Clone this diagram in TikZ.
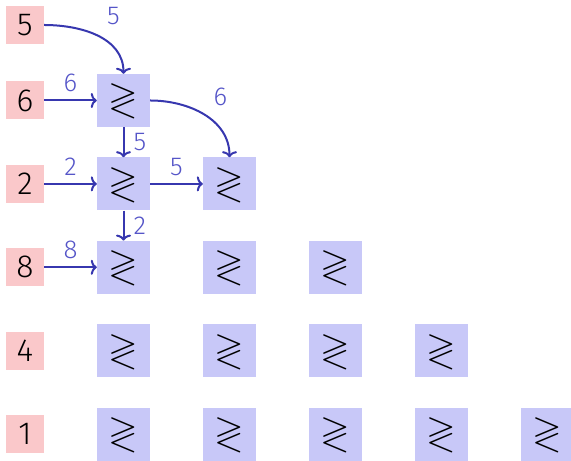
\documentclass[tikz,border=0pt]{standalone}
\usepackage{amssymb}
\usepackage{fontspec}
\setmainfont{Fira Sans Light}
\usetikzlibrary{positioning,arrows.meta}
\definecolor{boxpink}{RGB}{250,200,202}
\definecolor{boxblue}{RGB}{200,200,248}
\definecolor{arrowblue}{RGB}{55,55,175}
\definecolor{labelblue}{RGB}{85,85,200}

\begin{document}
\begin{tikzpicture}[
  x=1bp, y=1bp,
  numbox/.style={fill=boxpink, minimum size=38bp, inner sep=0pt,
    font=\fontsize{32}{32}\selectfont},
  cmpbox/.style={fill=boxblue, minimum size=53bp, inner sep=0pt,
    font=\fontsize{38}{38}\selectfont},
  flow/.style={draw=arrowblue, line width=2bp, -{To[length=6bp,width=15bp]}},
  lbl/.style={text=labelblue, font=\fontsize{26}{26}\selectfont, inner sep=2bp},
]
\useasboundingbox (0,0) rectangle (571,461);
% inputs
\node[numbox] (n0) at (25,436) {5};
\foreach \v [count=\r] in {6,2,8,4,1}
  \node[numbox] (n\r) at (25,{360.5-83.4*(\r-1)}) {\v};
% comparator triangle
\foreach \r in {1,...,5}
  \foreach \c in {1,...,\r}
    \node[cmpbox] (b\r\c) at ({123.5+106*(\c-1)},{360.5-83.4*(\r-1)}) {$\gtrless$};
% connections
\draw[flow] (n0) to[out=0,in=90] (b11.north);
\path (b11.north) ++(-10,58) node[lbl] (l0) {5};
\draw[flow] (n1) -- node[lbl, above=5.5bp] {6} (b11);
\draw[flow] (n2) -- node[lbl, above=5.5bp] {2} (b21);
\draw[flow] (n3) -- node[lbl, above=5.5bp] {8} (b31);
\draw[flow] (b11) -- node[lbl, right=7bp] {5} (b21);
\draw[flow] (b21) -- node[lbl, right=7bp] {2} (b31);
\draw[flow] (b21) -- node[lbl, above=5.5bp] {5} (b22);
\draw[flow] (b11) to[out=0,in=90] (b22.north);
\path (b22.north) ++(-9,60.5) node[lbl] (l1) {6};
\end{tikzpicture}
\end{document}
